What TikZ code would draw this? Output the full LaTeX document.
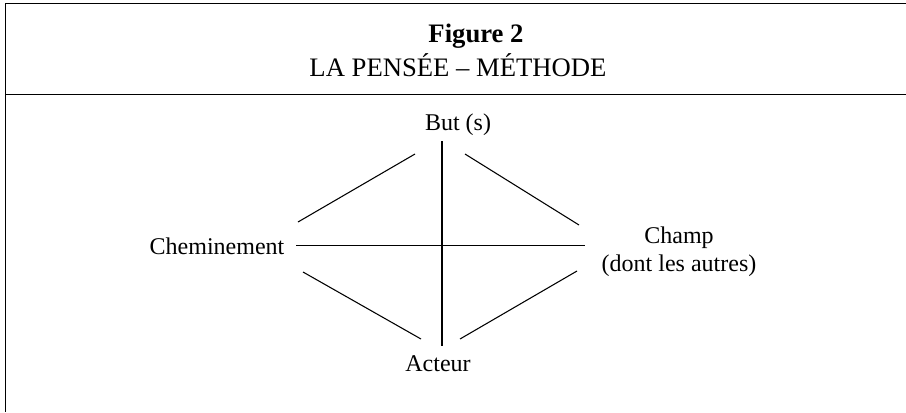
\documentclass[tikz,border=0pt]{standalone}
\usepackage{fontspec}
\setmainfont{Liberation Serif}

\begin{document}
\begin{tikzpicture}[x=0.75pt,y=0.75pt,yscale=-1,xscale=1,
  frameline/.style={line width=1.1pt},
  linkline/.style={line width=0.8pt},
  headtext/.style={inner sep=0.75pt,anchor=base,font=\fontsize{20}{24}\selectfont},
  nodetext/.style={inner sep=0.75pt,anchor=base,font=\fontsize{18}{20.5}\selectfont,align=center}]
\useasboundingbox (0,0) rectangle (906,412);

%Shape: Frame [left and top]
\draw [frameline] (906,3.5) -- (5.5,3.5) -- (5.5,412) ;
%Straight Lines [header divider]
\draw [frameline] (5.5,94.5) -- (906,94.5) ;

% Text Node
\node (figno) [headtext] at (476,42) {\textbf{Figure 2}};
% Text Node
\node (figtitle) [headtext] at (458,76) {LA PENSÉE – MÉTHODE};

% Text Node
\node (but) [nodetext] at (458,130) {But (s)};
% Text Node
\node (chem) [nodetext] at (217,254) {Cheminement};
% Text Node (base = last line)
\node (champ) [nodetext] at (679,271) {Champ\\(dont les autres)};
% Text Node
\node (acteur) [nodetext] at (438,371) {Acteur};

% line ends
\coordinate (vtop) at (442,141);
\coordinate (vbot) at (442,346);
\coordinate (hleft) at (296,245.5);
\coordinate (hright) at (585,245.5);
\coordinate (ulA) at (298,222);
\coordinate (ulB) at (415,154);
\coordinate (urA) at (465,154);
\coordinate (urB) at (579,225);
\coordinate (llA) at (303,272);
\coordinate (llB) at (421,339);
\coordinate (lrA) at (460,339);
\coordinate (lrB) at (577,271);

%Straight Lines [vertical]
\draw [linkline] (vtop) -- (vbot) ;
%Straight Lines [horizontal]
\draw [linkline] (hleft) -- (hright) ;
%Straight Lines [upper left]
\draw [linkline] (ulA) -- (ulB) ;
%Straight Lines [upper right]
\draw [linkline] (urA) -- (urB) ;
%Straight Lines [lower left]
\draw [linkline] (llA) -- (llB) ;
%Straight Lines [lower right]
\draw [linkline] (lrA) -- (lrB) ;

\end{tikzpicture}
\end{document}
